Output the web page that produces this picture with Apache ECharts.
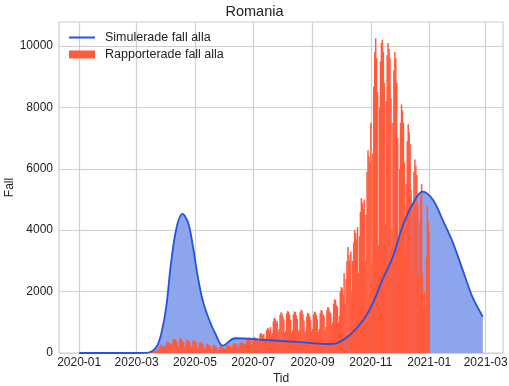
<!DOCTYPE html>
<html><head><meta charset="utf-8">
<script src="https://cdn.jsdelivr.net/npm/echarts@6/dist/echarts.min.js"></script>
<style>html,body{margin:0;padding:0;background:#fff}#c{width:509px;height:386px}</style>
</head><body><div id="c"></div>
<script>
// Reported daily cases, weeks starting Sunday 2020-03-01 (Sun..Sat)
const reportedStart = '2020-03-01';
const reportedWeeks = [
  [0,1,0,1,3,6,2],
  [2,5,10,15,30,22,29],
  [35,40,30,50,62,70,55],
  [80,110,143,186,245,280,180],
  [250,190,200,310,370,330,360],
  [320,250,280,420,470,460,430],
  [380,220,200,430,490,470,400],
  [350,190,210,390,440,410,380],
  [330,180,200,380,420,400,350],
  [310,150,170,340,360,320,290],
  [250,120,140,280,300,270,240],
  [220,110,120,230,260,240,200],
  [190,100,110,200,220,190,170],
  [180,120,130,230,260,240,210],
  [240,150,170,300,330,310,280],
  [290,180,200,320,350,340,300],
  [330,250,280,420,470,440,400],
  [420,280,300,480,520,500,460],
  [500,350,380,600,650,620,560],
  [620,450,480,750,820,790,700],
  [850,600,650,1030,1150,1110,980],
  [1050,700,780,1240,1330,1290,1200],
  [1100,650,720,1290,1370,1340,1250],
  [1080,650,740,1260,1350,1330,1220],
  [1120,700,760,1330,1410,1380,1260],
  [1050,650,720,1200,1300,1280,1190],
  [1080,700,780,1250,1350,1320,1230],
  [1100,700,790,1300,1400,1370,1260],
  [1200,750,850,1400,1500,1460,1350],
  [1300,900,1000,1600,1750,1720,1550],
  [1500,1000,1200,2000,2150,2100,1900],
  [2600,1600,2400,3000,3450,3200,3000],
  [3300,2000,3000,3600,4000,3900,3700],
  [4100,2600,3800,4600,5050,4900,4700],
  [5000,3000,4500,5900,6600,6400,6200],
  [7500,2900,6500,8670,9800,10250,9600],
  [8500,3500,8000,9500,10100,10200,9800],
  [8800,4200,8200,9700,10100,9900,9600],
  [8300,4000,7500,9200,9800,9600,8800],
  [7000,3500,6000,7500,8100,7900,7500],
  [6200,3200,5500,6900,7450,7200,6800],
  [5300,2800,4800,5900,6300,6100,5800],
  [4800,2500,4300,5100,5500,2600,1400],
  [2000,1500,3100,4800,4300,3900]
];
// Simulated cases
const simDates = ['2020-01-01','2020-03-01','2020-03-10','2020-03-16','2020-03-22','2020-03-27','2020-04-01','2020-04-06','2020-04-12','2020-04-18','2020-04-24','2020-04-29','2020-05-04','2020-05-09','2020-05-16','2020-05-23','2020-05-30','2020-06-12','2020-07-15','2020-08-15','2020-09-20','2020-09-26','2020-10-10','2020-10-24','2020-11-03','2020-11-13','2020-11-24','2020-12-04','2020-12-15','2020-12-25','2021-01-05','2021-01-15','2021-01-26','2021-02-05','2021-02-15','2021-02-26'];
const simValues = [0,0,5,40,205,650,1500,2930,4110,4528,4230,3460,2490,1730,1075,586,240,480,420,360,293,316,586,1075,1620,2380,3140,4110,4876,5255,4984,4332,3573,2700,1834,1182];
const xTickLabels = ['2020-01','2020-03','2020-05','2020-07','2020-09','2020-11','2021-01','2021-03'];
const yTickValues = [0,2000,4000,6000,8000,10000];

const DAY = 86400000;
function ts(s){const p=s.split('-').map(Number);return Date.UTC(p[0],p[1]-1,p[2]||1);}
const startTs = ts(reportedStart);
const reported = [];
reportedWeeks.flat().forEach((v,i)=>reported.push([startTs+i*DAY, v]));
const sim = simDates.map((d,i)=>[ts(d), simValues[i]]);
const xTicks = xTickLabels.map(s=>ts(s+'-01'));
const xMin = ts('2020-01-01') - 21.1*DAY;
const xMax = ts('2021-02-26') + 21.1*DAY;
function fmt(v){const d=new Date(v);const m=d.getUTCMonth()+1;return d.getUTCFullYear()+'-'+(m<10?'0'+m:m);}

const FONT = 'Liberation Sans, Arial, sans-serif';
const LINE = '#2553E0', BAR = '#FF5B3D';
const legText = {fontFamily:FONT,fontSize:12.5,color:'#222',padding:[0,0,0,5]};
const chart = echarts.init(document.getElementById('c'), null, {renderer:'canvas'});
chart.setOption({
  animation:false,
  backgroundColor:'#fff',
  textStyle:{fontFamily:FONT},
  title:{text:'Romania',left:'center',top:-1,textStyle:{fontFamily:FONT,fontSize:14.5,fontWeight:'normal',color:'#222'}},
  grid:{left:59,right:6,top:22,bottom:33,show:true,borderColor:'#cccccc',borderWidth:1.2,containLabel:false,outerBoundsMode:'none'},
  legend:[
    {left:64,top:26,itemWidth:26,itemHeight:2,selectedMode:false,textStyle:legText,
     data:[{name:'Simulerade fall alla',icon:'rect',itemStyle:{color:LINE}}]},
    {left:64,top:43,itemWidth:26,itemHeight:8,selectedMode:false,textStyle:legText,
     data:[{name:'Rapporterade fall alla',icon:'rect'}]}
  ],
  xAxis:{
    type:'value',min:xMin,max:xMax,
    name:'Tid',nameLocation:'middle',nameGap:20,nameMoveOverlap:false,nameTextStyle:{fontFamily:FONT,fontSize:12,color:'#222'},
    axisLine:{show:false},
    axisTick:{show:false,customValues:xTicks},
    axisLabel:{customValues:xTicks,formatter:fmt,fontFamily:FONT,fontSize:12,color:'#222',margin:4},
    splitLine:{show:true,lineStyle:{color:'#d0d0d0',width:1.2}}
  },
  yAxis:{
    type:'value',min:0,max:10780,
    name:'Fall',nameLocation:'middle',nameGap:43,nameMoveOverlap:false,nameTextStyle:{fontFamily:FONT,fontSize:12,color:'#222'},
    axisLine:{show:false},
    axisTick:{show:false,customValues:yTickValues},
    axisLabel:{customValues:yTickValues,formatter:v=>String(v),fontFamily:FONT,fontSize:12,color:'#222',margin:6},
    splitLine:{show:true,lineStyle:{color:'#d0d0d0',width:1.2}}
  },
  series:[
    {name:'simArea',type:'line',data:sim,smooth:0.35,symbol:'none',z:1,silent:true,
     lineStyle:{width:0},areaStyle:{color:'#8DA5EC',opacity:1}},
    {name:'Rapporterade fall alla',type:'bar',data:reported,barWidth:1.5,z:2,
     itemStyle:{color:BAR}},
    {name:'Simulerade fall alla',type:'line',data:sim,smooth:0.35,symbol:'none',z:4,
     lineStyle:{color:LINE,width:1.8},itemStyle:{color:LINE}}
  ]
});
</script></body></html>
